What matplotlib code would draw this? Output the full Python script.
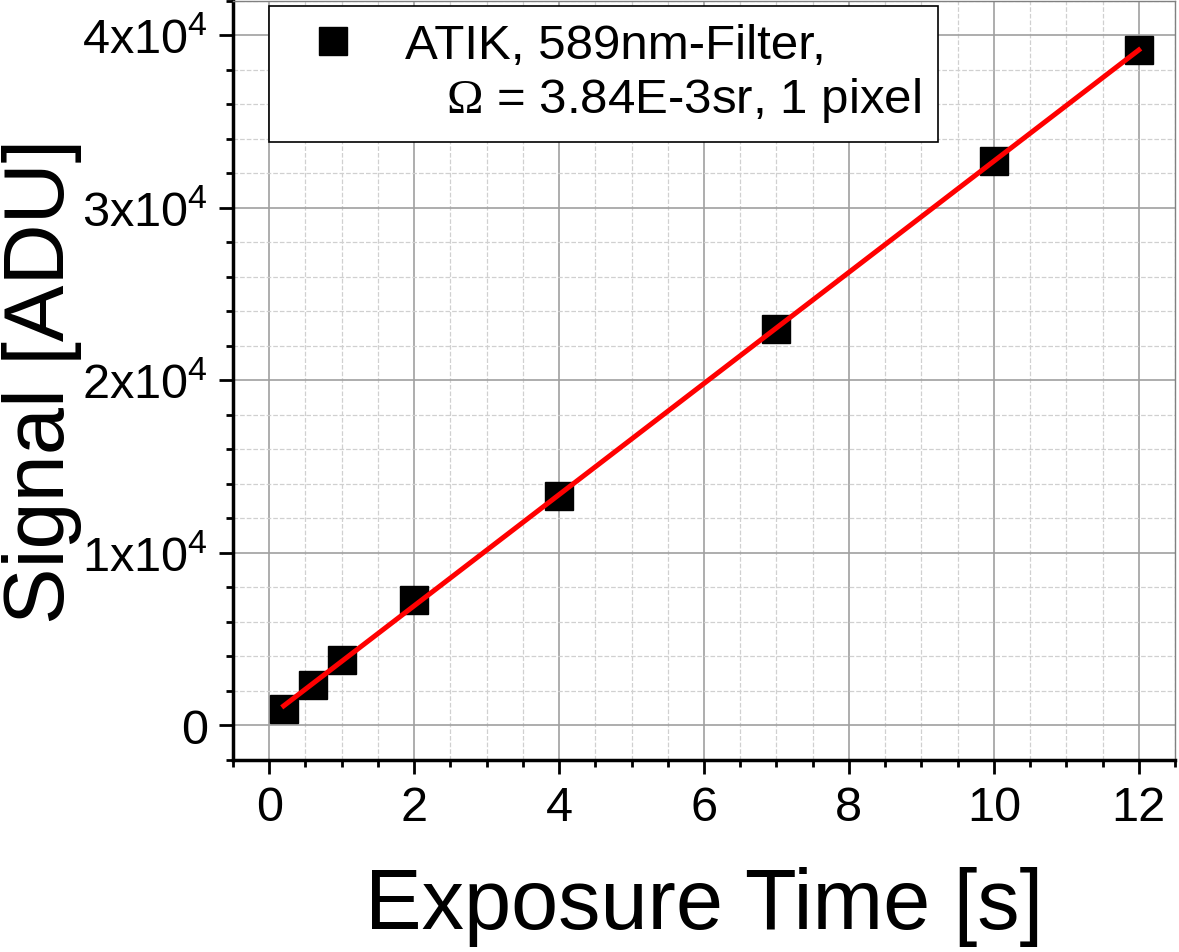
import numpy as np
import matplotlib
matplotlib.use('Agg')
import matplotlib.pyplot as plt
from matplotlib.lines import Line2D
from matplotlib.ticker import MultipleLocator, FuncFormatter

plt.rcParams['font.family'] = ['Liberation Sans', 'DejaVu Sans']
plt.rcParams['mathtext.fontset'] = 'custom'
plt.rcParams['mathtext.rm'] = 'Liberation Sans'
plt.rcParams['mathtext.sf'] = 'Liberation Serif'

# belichtungszeit [s] und signal [ADU]
t = np.array([0.2, 0.6, 1, 2, 4, 7, 10, 12])
sig = np.array([930, 2340, 3790, 7290, 13280, 23010, 32710, 39150])

label1 = 'ATIK, 589nm-Filter,'
label2 = '   $\\mathsf{\\Omega}$ = 3.84E-3sr, 1 pixel'

# lineare regression
k, b = np.polyfit(t, sig, 1)
tt = np.array([t[0], t[-1]])

fig = plt.figure(figsize=(11.79, 9.53), dpi=100)
ax = fig.add_axes([0.1976, 0.2015, 0.799, 0.7965])

pts, = ax.plot(t, sig, 's', color='black', ms=19.5, zorder=3)
ax.plot(tt, k*tt + b, color='#ff0000', lw=3.6, zorder=4)

ax.set_xlim(-0.5, 12.5)
ax.set_ylim(-2000, 42000)
ax.xaxis.set_major_locator(MultipleLocator(2))
ax.xaxis.set_minor_locator(MultipleLocator(0.5))
ax.yaxis.set_major_locator(MultipleLocator(10000))
ax.yaxis.set_minor_locator(MultipleLocator(2000))


def fmt(v, pos):
    n = int(round(v / 10000))
    if n == 0:
        return '0'
    return '$\\mathregular{%dx10^{4}}$' % n


ax.yaxis.set_major_formatter(FuncFormatter(fmt))

ax.grid(True, which='major', color='#a0a0a0', lw=1.2)
ax.grid(True, which='minor', color='#d0d0d0', lw=0.9, ls='--')
ax.set_axisbelow(True)

for s in ['left', 'bottom']:
    ax.spines[s].set_linewidth(2.5)
for s in ['top', 'right']:
    ax.spines[s].set_linewidth(1)
    ax.spines[s].set_color('#808080')

ax.tick_params(which='major', direction='out', length=10, width=2, labelsize=35, pad=8)
ax.tick_params(which='minor', direction='out', length=5, width=2)
ax.tick_params(top=False, right=False, which='both')

ax.set_xlabel('Exposure Time [s]', fontsize=61, labelpad=26)
ax.set_ylabel('Signal [ADU]', fontsize=61, labelpad=0)

empty = Line2D([], [], linestyle='none', marker='none')
leg = ax.legend([pts, empty], [label1, label2], loc='upper left',
                bbox_to_anchor=(0.033, 1.0), borderaxespad=0.1,
                fontsize=35.5, frameon=True, fancybox=False, framealpha=1,
                edgecolor='black', handlelength=1.9, handletextpad=0.5,
                borderpad=0.35, labelspacing=0.15)
leg.get_frame().set_linewidth(1.2)

fig.savefig('out.png', dpi=100)
